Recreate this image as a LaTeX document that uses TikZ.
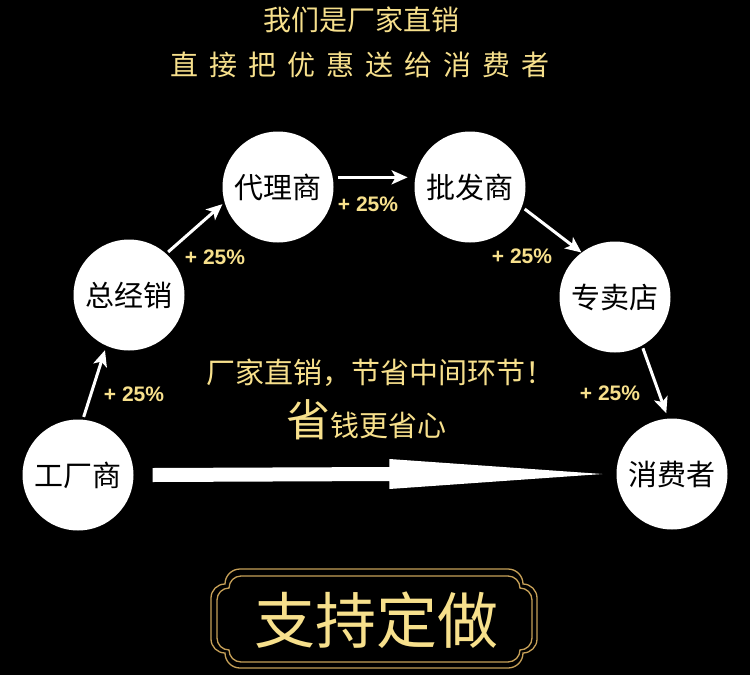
\documentclass[tikz,border=0pt]{standalone}
\usepackage{fontspec}
\newfontfamily\cjk{Noto Sans CJK SC}
\newfontfamily\pct{Liberation Sans}
\usetikzlibrary{arrows.meta,calc}
\definecolor{gold}{RGB}{247,224,140}
\definecolor{framegold}{RGB}{198,160,88}
\tikzset{
  lobe/.style n args={6}{insert path={
  (#1,{#2+#5+#6}) .. controls (#1,{#2+#5+#6-0.552*#6}) and ({#1+#6-0.552*#6},{#2+#5}) .. ({#1+#6},{#2+#5})
  .. controls ({#1+#6},{#2+#5-0.552*#5}) and ({#1+#6+#5-0.552*#5},#2) .. ({#1+#6+#5},#2)
  -- ({#3-#6-#5},#2) .. controls ({#3-#6-#5+0.552*#5},#2) and ({#3-#6},{#2+#5-0.552*#5}) .. ({#3-#6},{#2+#5})
  .. controls ({#3-#6+0.552*#6},{#2+#5}) and (#3,{#2+#5+#6-0.552*#6}) .. (#3,{#2+#5+#6})
  -- (#3,{#4-#5-#6}) .. controls (#3,{#4-#5-#6+0.552*#6}) and ({#3-#6+0.552*#6},{#4-#5}) .. ({#3-#6},{#4-#5})
  .. controls ({#3-#6},{#4-#5+0.552*#5}) and ({#3-#6-#5+0.552*#5},#4) .. ({#3-#6-#5},#4)
  -- ({#1+#6+#5},#4) .. controls ({#1+#6+#5-0.552*#5},#4) and ({#1+#6},{#4-#5+0.552*#5}) .. ({#1+#6},{#4-#5})
  .. controls ({#1+#6-0.552*#6},{#4-#5}) and (#1,{#4-#5-#6+0.552*#6}) .. (#1,{#4-#5-#6}) -- cycle}}
}
\begin{document}
\begin{tikzpicture}[x=1pt,y=-1pt,
  station/.style={circle, fill=white, minimum size=111pt, inner sep=0pt, font=\cjk\fontsize{29}{29}\selectfont, text=black},
  flow/.style={white, line width=3pt, -{Stealth[length=16pt,width=14pt,inset=4pt]}},
  rate/.style={text=gold, font=\pct\bfseries\fontsize{21}{21}\selectfont, inner sep=0pt},
  goldtext/.style={text=gold, inner sep=0pt},
  frameline/.style={draw=framegold, line width=1.3pt}]
\fill[black] (0,0) rectangle (750,675);
\useasboundingbox (0,0) rectangle (750,675);

\node[goldtext, font=\cjk\fontsize{28}{28}\selectfont] (t1) at (361,20) {我们是厂家直销};
\node[goldtext, font=\cjk\fontsize{28}{28}\selectfont] (t2) at (360,65) {直\hspace{11pt}接\hspace{11pt}把\hspace{11pt}优\hspace{11pt}惠\hspace{11pt}送\hspace{11pt}给\hspace{11pt}消\hspace{11pt}费\hspace{11pt}者};

\node[station] (gc) at (78,475) {工厂商};
\node[station] (zjx) at (129,295) {总经销};
\node[station] (dl) at (278,187) {代理商};
\node[station] (pf) at (470,187) {批发商};
\node[station] (zm) at (615,297) {专卖店};
\node[station] (xf) at (672,474) {消费者};

\draw[flow, shorten <=2.7pt, shorten >=4.5pt] (gc.85) -- (zjx.246);
\draw[flow, shorten <=2.5pt, shorten >=2.7pt] (zjx.48) -- (dl.196);
\draw[flow, shorten <=5.5pt, shorten >=7.5pt] (dl.10) -- (pf.170);
\draw[flow, shorten <=3.4pt] (pf.-21) -- (zm.127);
\draw[flow, shorten <=2.7pt, shorten >=5.5pt] (zm.-61) -- (xf.94);

\coordinate (ba) at ($(gc.east)+(19,0)$);
\coordinate (bt) at ($(xf.west)+(-14,0)$);
\fill[white] ($(ba)+(0,-7)$) -- ($(bt)+(-213,-7)$) -- ($(bt)+(-213,-15)$) -- (bt)
  -- ($(bt)+(-213,15)$) -- ($(bt)+(-213,7)$) -- ($(ba)+(0,7)$) -- cycle;

\node[rate] (r1) at (134,394) {+ 25\%};
\node[rate] (r2) at (215,257) {+ 25\%};
\node[rate] (r3) at (368,204) {+ 25\%};
\node[rate] (r4) at (522,256) {+ 25\%};
\node[rate] (r5) at (610,393) {+ 25\%};

\node[goldtext, font=\cjk\fontsize{29}{29}\selectfont] (mid) at (380,373) {厂家直销，节省中间环节！};
\node[goldtext, font=\cjk] (save) at (366,420) {{\fontsize{44}{44}\selectfont 省}{\fontsize{29}{29}\selectfont 钱更省心}};

\draw[frameline, lobe={211}{569}{537}{668}{15}{14}];
\draw[frameline, lobe={217}{576}{532}{662}{12}{12}];
\node[goldtext, font=\cjk\fontsize{61}{61}\selectfont] (btn) at (376,620) {支持定做};
\end{tikzpicture}
\end{document}
